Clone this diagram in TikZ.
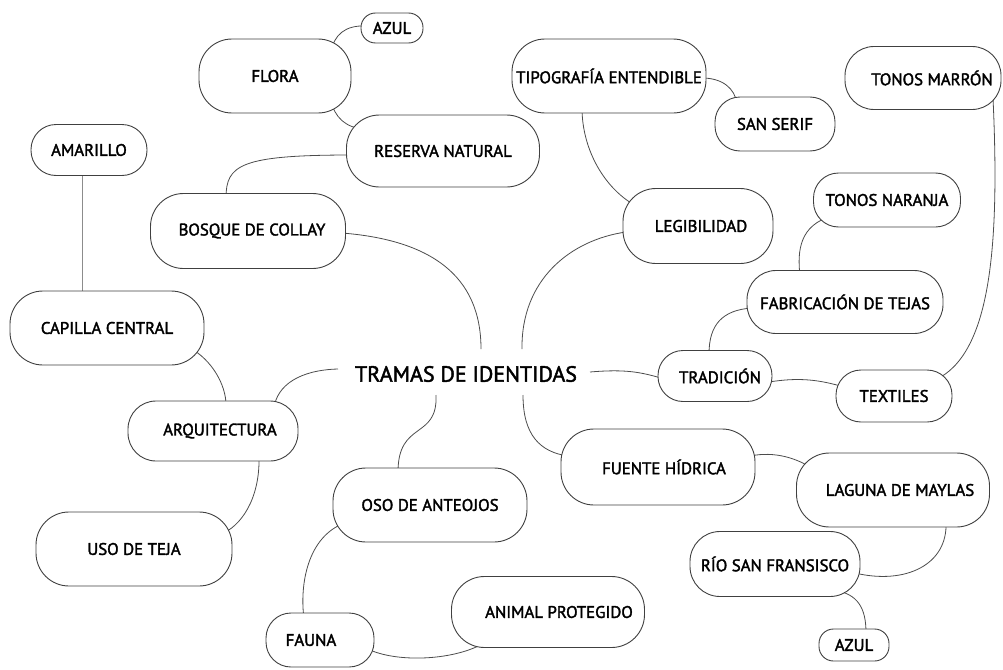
\documentclass[tikz,border=0pt]{standalone}
\usepackage{fontspec}
\setmainfont{PT Sans}[FakeBold=2]
\usetikzlibrary{calc}
\pgfdeclarelayer{bg}
\pgfsetlayers{bg,main}
\tikzset{
  box/.style={draw=black!75, line width=0.9pt, fill=white, inner sep=0pt,
    font=\fontsize{16.8}{19}\selectfont, text=black},
  rbig/.style={rounded corners=33pt},
  rmid/.style={rounded corners=25pt},
  rsmall/.style={rounded corners=14.5pt},
  link/.style={draw=black!70, line width=0.8pt},
  thinlink/.style={draw=black!45, line width=0.8pt},
  titletext/.style={font=\fontsize{22}{25}\selectfont, inner sep=0pt, text=black}
}
\begin{document}
\begin{tikzpicture}[x=1pt,y=-1pt]
\useasboundingbox (0,0) rectangle (1003,669);
% nodes
\node[box,rsmall,minimum width=62pt,minimum height=30pt] (azulA) at (392,28) {AZUL};
\node[box,rbig,minimum width=152pt,minimum height=74pt] (flora) at (275,76) {FLORA};
\node[box,rbig,minimum width=193pt,minimum height=72pt] (reserva) at (443,151) {RESERVA NATURAL};
\node[box,rmid,minimum width=116pt,minimum height=51pt] (amarillo) at (89,150) {AMARILLO};
\node[box,rbig,minimum width=195pt,minimum height=75pt] (bosque) at (248,231) {\hspace*{8pt}BOSQUE DE COLLAY};
\node[box,rbig,minimum width=194pt,minimum height=74pt] (capilla) at (107,328) {CAPILLA CENTRAL};
\node[box,rbig,minimum width=170pt,minimum height=60pt,rounded corners=28pt] (arq) at (213,431) {\hspace*{14pt}ARQUITECTURA};
\node[box,rbig,minimum width=196pt,minimum height=74pt] (uso) at (134,549) {USO DE TEJA};
\node[box,rbig,minimum width=194pt,minimum height=74pt] (oso) at (430,505) {OSO DE ANTEOJOS};
\node[box,rmid,minimum width=108pt,minimum height=54pt] (fauna) at (320,640) {FAUNA\hspace*{18pt}};
\node[box,rbig,minimum width=193pt,minimum height=71pt] (animal) at (548,612) {\hspace*{22pt}ANIMAL PROTEGIDO};
\node[box,rbig,minimum width=194pt,minimum height=74pt] (tipo) at (609,76) {TIPOGRAFÍA ENTENDIBLE};
\node[box,rmid,minimum width=120pt,minimum height=54pt] (sanserif) at (775,124) {SAN SERIF};
\node[box,rmid,minimum width=156pt,minimum height=63pt,rounded corners=29pt] (marron) at (923,78) {\hspace*{18pt}TONOS MARRÓN};
\node[box,rbig,minimum width=150pt,minimum height=75pt] (legib) at (698,226) {\hspace*{6pt}LEGIBILIDAD};
\node[box,rmid,minimum width=147pt,minimum height=54pt] (naranja) at (887,200) {TONOS NARANJA};
\node[box,rmid,minimum width=196pt,minimum height=63pt,rounded corners=29pt] (fabric) at (845,302) {FABRICACIÓN DE TEJAS};
\node[box,rmid,minimum width=114pt,minimum height=51pt] (tradicion) at (715,376) {\hspace*{10pt}TRADICIÓN};
\node[box,rmid,minimum width=116pt,minimum height=52pt] (textiles) at (894,396) {TEXTILES};
\node[box,rbig,minimum width=194pt,minimum height=76pt] (fuente) at (658,467) {\hspace*{12pt}FUENTE HÍDRICA};
\node[box,rbig,minimum width=193pt,minimum height=74pt] (laguna) at (893,490) {\hspace*{14pt}LAGUNA DE MAYLAS};
\node[box,rbig,minimum width=170pt,minimum height=65pt,rounded corners=30pt] (rio) at (775,564) {RÍO SAN FRANSISCO};
\node[box,rsmall,minimum width=70pt,minimum height=32pt] (azulB) at (854,645) {AZUL};
\node[titletext] (title) at (466,374) {TRAMAS DE IDENTIDAS};
% free ends near the title
\coordinate (tTopL) at (481,349);
\coordinate (tTopR) at (522,349);
\coordinate (tLeft) at (338,369);
\coordinate (tRight) at (590,372);
\coordinate (tBotL) at (436,395);
\coordinate (tBotR) at (523,395);
\begin{pgfonlayer}{bg}
\draw[link] ($(flora)+(56,-24)$) .. controls +(3,-17) and +(-21,-1) .. ($(azulA)+(-26,-2)$);
\draw[link] ($(flora)+(56,24)$) .. controls +(3,17) and +(-18,-1) .. ($(reserva)+(-79,-22)$);
\draw[link] ($(reserva)+(-91,4)$) .. controls +(-112,0) and +(0,-33) .. ($(bosque)+(-22,-33)$);
\draw[link] ($(bosque)+(94,2)$) .. controls +(88,7) and +(0,-74) .. (tTopL);
\draw[link] ($(legib)+(-72,6)$) .. controls +(-56,8) and +(-1,-69) .. (tTopR);
\draw[link] ($(tipo)+(-27,32)$) .. controls +(0,42) and +(-33,-17) .. ($(legib)+(-60,-19)$);
\draw[link] ($(tipo)+(93,2)$) .. controls +(20,0) and +(-2,-16) .. ($(sanserif)+(-38,-20)$);
\draw[link] ($(marron)+(70,20)$) .. controls +(7,152) and +(55,-25) .. ($(textiles)+(41,-16)$);
\draw[link] ($(naranja)+(-55,16)$) .. controls +(-32,9) and +(-3,-26) .. ($(fabric)+(-45,-26)$);
\draw[link] ($(fabric)+(-93,6)$) .. controls +(-30,2) and +(0,-29) .. ($(tradicion)+(-6,-22)$);
\draw[link] (tRight) .. controls +(35,-3) and +(-21,-6) .. ($(tradicion)+(-54,2)$);
\draw[link] ($(tradicion)+(54,6)$) .. controls +(31,-5) and +(-24,-7) .. ($(textiles)+(-50,-9)$);
\draw[link] (tBotR) .. controls +(0,40) and +(-28,-4) .. ($(fuente)+(-90,-11)$);
\draw[link] ($(fuente)+(92,-11)$) .. controls +(25,-5) and +(-18,-12) .. ($(laguna)+(-78,-20)$);
\draw[link] ($(laguna)+(53,32)$) .. controls +(2,43) and +(50,12) .. ($(rio)+(80,9)$);
\draw[link] ($(rio)+(59,26)$) .. controls +(24,4) and +(0,-25) .. ($(azulB)+(12,-12)$);
\draw[link] (tLeft) .. controls +(-38,1) and +(3,-23) .. ($(arq)+(61,-23)$);
\draw[link] (tBotL) .. controls +(2,45) and +(0,-52) .. ($(oso)+(-32,-33)$);
\draw[link] ($(capilla)+(83,20)$) .. controls +(22,12) and +(0,-20) .. ($(arq)+(13,-26)$);
\draw[link] ($(arq)+(46,26)$) .. controls +(1,43) and +(19,-7) .. ($(uso)+(87,-15)$);
\draw[link] ($(oso)+(-88,19)$) .. controls +(-37,16) and +(-4,-28) .. ($(fauna)+(-16,-22)$);
\draw[link] ($(fauna)+(50,10)$) .. controls +(30,13) and +(-29,17) .. ($(animal)+(-64,31)$);
\draw[thinlink] ($(amarillo)+(-7,20)$) -- ($(capilla)+(-25,-32)$);
\end{pgfonlayer}
\end{tikzpicture}
\end{document}
